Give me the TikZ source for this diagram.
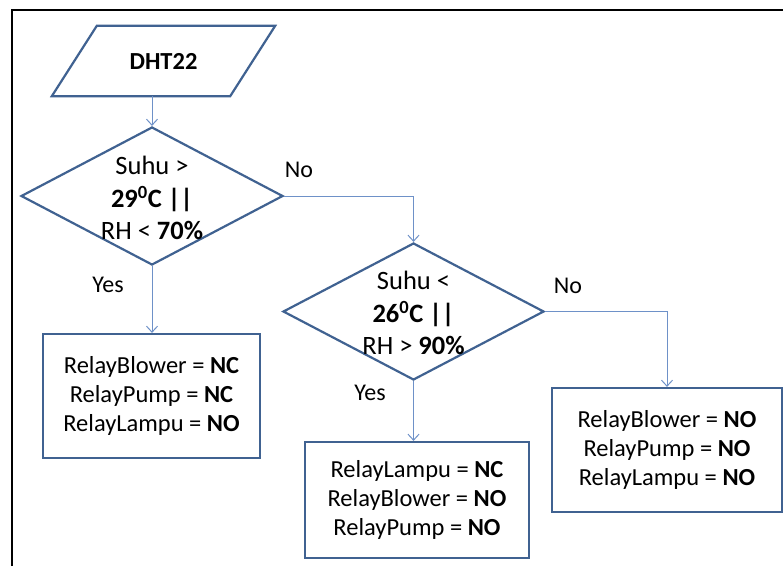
\documentclass[tikz,border=0pt]{standalone}
\usepackage{fontspec}
\setmainfont{Carlito}
\usetikzlibrary{shapes.geometric,arrows.meta,calc}
\definecolor{bordc}{RGB}{64,98,145}
\definecolor{connc}{RGB}{110,145,200}
\tikzset{
  shapeline/.style={draw=bordc, line width=2.2pt, line join=miter},
  boxnode/.style={shapeline, rectangle, inner sep=0pt, align=center, font=\fontsize{24.5}{29}\selectfont},
  dianode/.style={shapeline, diamond, inner sep=0pt},
  diatext/.style={align=center, inner sep=0pt, font=\fontsize{26.5}{32.5}\selectfont},
  conn/.style={draw=connc, line width=1pt, -{Straight Barb[length=6pt,width=11pt]}},
  lbl/.style={inner sep=0pt, font=\fontsize{24}{29}\selectfont}
}
\begin{document}
\begin{tikzpicture}[x=1pt,y=-1pt]
\useasboundingbox (0,0) rectangle (783,566);
\fill[white] (0,0) rectangle (783,566);
% frame
\draw[line width=2pt, black] (12,566) -- (12,10) -- (783,10);

% input parallelogram
\node[minimum width=223pt, minimum height=70pt, inner sep=0pt, font=\fontsize{24.5}{29}\selectfont\bfseries] (dht) at (163.5,61) {DHT22};
\draw[shapeline] ([xshift=45pt]dht.north west) -- (dht.north east) -- ([xshift=-45pt]dht.south east) -- (dht.south west) -- cycle;

% decision 1
\node[dianode, minimum width=262pt, minimum height=138pt] (d1) at (152,196) {};
\node[diatext] (d1t) at (152,198) {Suhu \textgreater\\ \textbf{29\textsuperscript{0}C ||}\\ RH \textless{} \textbf{70\%}};

% decision 2
\node[dianode, minimum width=261pt, minimum height=137pt] (d2) at (413.5,311.5) {};
\node[diatext] (d2t) at (413.5,313) {Suhu \textless\\ \textbf{26\textsuperscript{0}C ||}\\ RH \textgreater{} \textbf{90\%}};

% boxes
\node[boxnode, minimum width=217pt, minimum height=124pt] (b1) at (151.5,396) {RelayBlower = \textbf{NC}\\ RelayPump = \textbf{NC}\\ RelayLampu = \textbf{NO}};
\node[boxnode, minimum width=224pt, minimum height=116pt] (b2) at (417,500) {RelayLampu = \textbf{NC}\\ RelayBlower = \textbf{NO}\\ RelayPump = \textbf{NO}};
\node[boxnode, minimum width=230pt, minimum height=124pt] (b3) at (667,450) {RelayBlower = \textbf{NO}\\ RelayPump = \textbf{NO}\\ RelayLampu = \textbf{NO}};

% connectors
\draw[conn] (dht.south -| d1.north) -- (d1.north);
\draw[conn] (d1.south) -- (d1.south |- b1.north);
\draw[conn] (d1.east) -| (d2.north);
\draw[conn] (d2.south) -- (d2.south |- b2.north);
\draw[conn] (d2.east) -| (b3.north);

% labels
\node[lbl] (no1) at (299,170) {No};
\node[lbl] (yes1) at (108,285) {Yes};
\node[lbl] (no2) at (568,286) {No};
\node[lbl] (yes2) at (370,393) {Yes};
\end{tikzpicture}
\end{document}
